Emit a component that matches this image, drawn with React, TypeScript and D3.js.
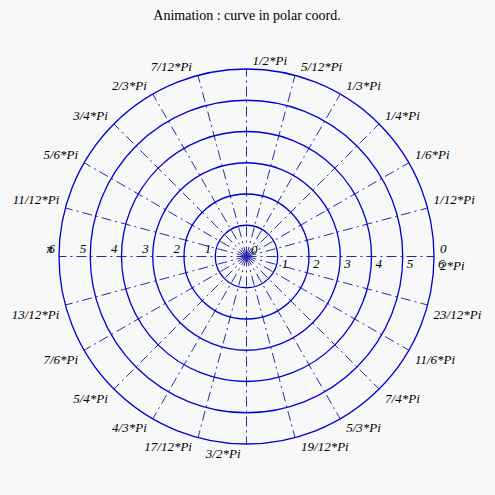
import React from "react";
import * as d3 from "d3";

const title = "Animation : curve in polar coord.";
const radialTicks = [0, 1, 2, 3, 4, 5, 6];
const angleSteps = d3.range(0, 25); // multiples of Pi/12
const angleLabels = [
  "0", "1/12*Pi", "1/6*Pi", "1/4*Pi", "1/3*Pi", "5/12*Pi", "1/2*Pi",
  "7/12*Pi", "2/3*Pi", "3/4*Pi", "5/6*Pi", "11/12*Pi", "π",
  "13/12*Pi", "7/6*Pi", "5/4*Pi", "4/3*Pi", "17/12*Pi", "3/2*Pi",
  "19/12*Pi", "5/3*Pi", "7/4*Pi", "11/6*Pi", "23/12*Pi", "2*Pi",
];

const W = 495;
const H = 495;
const cx = 246.5;
const cy = 256.5;
const R = 187.5;

export default function App() {
  const r = d3.scaleLinear().domain([0, 6]).range([0, R]);
  const ang = d3.scaleLinear().domain([0, 24]).range([0, 2 * Math.PI]);
  const font = "'Liberation Serif', 'Times New Roman', serif";
  const pt = (k: number, rad: number) => {
    const a = ang(k);
    return [cx + rad * Math.cos(a), cy - rad * Math.sin(a)];
  };

  return (
    <svg
      width={W}
      height={H}
      style={{ position: "fixed", left: 0, top: 0, background: "#f8f8f8", display: "block" }}
    >
      <rect x={0} y={0} width={W} height={H} fill="#f8f8f8" />
      <text x={247} y={20} textAnchor="middle" fontFamily={font} fontSize={14} fill="#000">
        {title}
      </text>
      {angleSteps.slice(0, 24).map((k) => {
        const [x2, y2] = pt(k, r(6));
        return (
          <line
            key={"s" + k}
            x1={cx}
            y1={cy}
            x2={x2}
            y2={y2}
            stroke="#2a2aa8"
            strokeWidth={1}
            strokeDasharray="10,4,2,4"
          />
        );
      })}
      {radialTicks.slice(1).map((t) => (
        <circle key={"c" + t} cx={cx} cy={cy} r={r(t)} fill="none" stroke="#0000d0" strokeWidth={1.3} />
      ))}
      {radialTicks.map((t) =>
        t === 0 ? (
          <text key={"r0"} x={cx + 4.5} y={cy - 2.5} fontFamily={font} fontStyle="italic" fontSize={13} fill="#000">
            {t}
          </text>
        ) : (
          <g key={"r" + t}>
            <text x={cx + r(t) + 4} y={cy + 11.5} fontFamily={font} fontStyle="italic" fontSize={13} fill="#000">
              {t}
            </text>
            <text
              x={cx - r(t) - 4}
              y={cy - 3.5}
              textAnchor="end"
              fontFamily={font}
              fontStyle="italic"
              fontSize={13}
              fill="#000"
            >
              {t}
            </text>
          </g>
        )
      )}
      {angleSteps.map((k) => {
        const [px, py] = pt(k, r(6));
        const upper = k <= 12;
        const start = k <= 6 || k > 18;
        return (
          <text
            key={"a" + k}
            x={start ? px + 6 : px - 6}
            y={upper ? py - 4 : py + 13.5}
            textAnchor={start ? "start" : "end"}
            fontFamily={font}
            fontStyle="italic"
            fontSize={13}
            fill="#000"
          >
            {angleLabels[k]}
          </text>
        );
      })}
    </svg>
  );
}
